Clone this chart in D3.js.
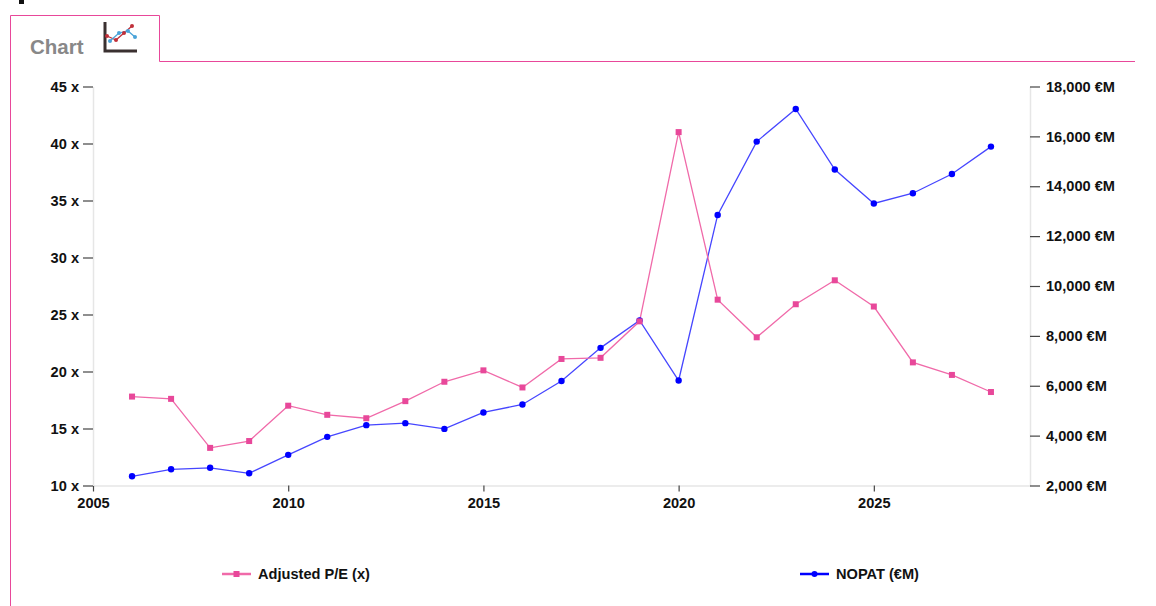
<!DOCTYPE html>
<html lang="en">
<head>
  <meta charset="UTF-8">
  <title>Chart</title>
  <script src="https://cdn.jsdelivr.net/npm/d3@7"></script>
  <style>
    body { margin: 0; background: #fff; }
    text { font-family: "Liberation Sans", Arial, sans-serif; }
  </style>
</head>
<body>
  <div id="wrapper"></div>
  <script>
    // data
    const years = [2006, 2007, 2008, 2009, 2010, 2011, 2012, 2013, 2014, 2015, 2016,
                   2017, 2018, 2019, 2020, 2021, 2022, 2023, 2024, 2025, 2026, 2027, 2028]
    const peValues = [17.8, 17.6, 13.3, 13.9, 17.0, 16.2, 15.9, 17.4, 19.1, 20.1, 18.6,
                      21.1, 21.2, 24.4, 41.0, 26.3, 23.0, 25.9, 28.0, 25.7, 20.8, 19.7, 18.2]
    const nopatValues = [2370, 2650, 2710, 2490, 3230, 3950, 4420, 4500, 4270, 4930, 5250,
                         6190, 7520, 8620, 6210, 12850, 15790, 17100, 14670, 13310, 13720, 14490, 15590]
    const xTicks = [2005, 2010, 2015, 2020, 2025]
    const leftTicks = [10, 15, 20, 25, 30, 35, 40, 45]
    const rightTicks = [2000, 4000, 6000, 8000, 10000, 12000, 14000, 16000, 18000]
    const seriesNames = ["Adjusted P/E (x)", "NOPAT (€M)"]

    const pink = "#e8489a"
    const blue = "#0000ff"
    const fontSize = 14.6

    const dimensions = {
      width: 1156,
      height: 606,
      margin: { top: 86.5, right: 126, bottom: 120.5, left: 93 }
    }
    dimensions.boundedWidth = dimensions.width - dimensions.margin.left - dimensions.margin.right
    dimensions.boundedHeight = dimensions.height - dimensions.margin.top - dimensions.margin.bottom

    const svg = d3.select("#wrapper").append("svg")
      .attr("width", dimensions.width)
      .attr("height", dimensions.height)

    // tab frame
    const frame = svg.append("g")
    frame.append("path")
      .attr("d", "M10.5,606 V15.5 H159.5 V61.5 H1135")
      .attr("fill", "none")
      .attr("stroke", pink)
      .attr("stroke-width", 1)
    frame.append("rect").attr("x", 19).attr("y", 0).attr("width", 5).attr("height", 4).attr("fill", "#111")
    frame.append("text")
      .attr("x", 30).attr("y", 54)
      .attr("font-size", 20.5).attr("font-weight", "bold")
      .attr("fill", "#888")
      .text("Chart")

    // little chart icon
    const icon = frame.append("g")
    icon.append("path").attr("d", "M105,22 V51 H137").attr("fill", "none")
      .attr("stroke", "#3a3030").attr("stroke-width", 3)
    const redPts = [[107, 36], [116, 40], [124, 33], [132, 26]]
    const bluePts = [[110, 41], [119, 33], [128, 31], [135, 37]]
    icon.append("path").attr("d", d3.line()(redPts)).attr("fill", "none").attr("stroke", "#c0303a").attr("stroke-width", 1.3)
    icon.append("path").attr("d", d3.line()(bluePts)).attr("fill", "none").attr("stroke", "#4aa3d8").attr("stroke-width", 1.3)
    icon.selectAll(".r").data(redPts).join("circle").attr("cx", d => d[0]).attr("cy", d => d[1]).attr("r", 2).attr("fill", "#c0303a")
    icon.selectAll(".b").data(bluePts).join("circle").attr("cx", d => d[0]).attr("cy", d => d[1]).attr("r", 2).attr("fill", "#4aa3d8")

    const bounds = svg.append("g")
      .attr("transform", `translate(${dimensions.margin.left}, ${dimensions.margin.top})`)

    const xScale = d3.scaleLinear()
      .domain([2005, 2029])
      .range([0, dimensions.boundedWidth])
    const yLeft = d3.scaleLinear()
      .domain([10, 45])
      .range([dimensions.boundedHeight, 0])
    const yRight = d3.scaleLinear()
      .domain([2000, 18000])
      .range([dimensions.boundedHeight, 0])

    // axes
    const styleAxis = g => {
      g.select(".domain").attr("stroke", "#e6e6e6").attr("stroke-width", 1.5)
      g.selectAll(".tick line").attr("stroke", "#444").attr("stroke-width", 1.2)
      g.selectAll(".tick text")
        .attr("fill", "#111")
        .attr("font-size", fontSize)
        .attr("font-weight", "bold")
        .attr("font-family", "'Liberation Sans', Arial, sans-serif")
    }

    bounds.append("g")
      .attr("transform", `translate(0, ${dimensions.boundedHeight})`)
      .call(d3.axisBottom(xScale).tickValues(xTicks).tickFormat(d3.format("d")).tickSize(6).tickSizeOuter(0).tickPadding(6))
      .call(styleAxis)

    bounds.append("g")
      .call(d3.axisLeft(yLeft).tickValues(leftTicks).tickFormat(d => d + " x").tickSize(10).tickSizeOuter(0).tickPadding(4))
      .call(styleAxis)

    bounds.append("g")
      .attr("transform", `translate(${dimensions.boundedWidth}, 0)`)
      .call(d3.axisRight(yRight).tickValues(rightTicks).tickFormat(d => d3.format(",")(d) + " €M").tickSize(10).tickSizeOuter(0).tickPadding(6))
      .call(styleAxis)

    // lines
    const peData = years.map((y, i) => ({ year: y, value: peValues[i] }))
    const nopatData = years.map((y, i) => ({ year: y, value: nopatValues[i] }))

    const peLine = d3.line().x(d => xScale(d.year)).y(d => yLeft(d.value))
    const nopatLine = d3.line().x(d => xScale(d.year)).y(d => yRight(d.value))

    bounds.append("path")
      .attr("d", nopatLine(nopatData))
      .attr("fill", "none")
      .attr("stroke", "#4646ff")
      .attr("stroke-width", 1.3)

    bounds.append("path")
      .attr("d", peLine(peData))
      .attr("fill", "none")
      .attr("stroke", "#f06aa9")
      .attr("stroke-width", 1.3)

    bounds.selectAll(".nopat-dot").data(nopatData).join("circle")
      .attr("class", "nopat-dot")
      .attr("cx", d => xScale(d.year))
      .attr("cy", d => yRight(d.value))
      .attr("r", 3.2)
      .attr("fill", blue)

    bounds.selectAll(".pe-dot").data(peData).join("rect")
      .attr("class", "pe-dot")
      .attr("x", d => xScale(d.year) - 3)
      .attr("y", d => yLeft(d.value) - 3)
      .attr("width", 6)
      .attr("height", 6)
      .attr("fill", pink)

    // legend
    const legend = svg.append("g")
    const legendItems = [
      { name: seriesNames[0], x: 222, color: pink, line: "#f06aa9", shape: "rect" },
      { name: seriesNames[1], x: 800, color: blue, line: blue, shape: "circle" }
    ]
    legendItems.forEach(item => {
      const g = legend.append("g").attr("transform", `translate(${item.x}, 574)`)
      g.append("line").attr("x1", 0).attr("x2", 29).attr("y1", 0).attr("y2", 0)
        .attr("stroke", item.line).attr("stroke-width", 2.5)
      if (item.shape === "rect") {
        g.append("rect").attr("x", 11.5).attr("y", -3).attr("width", 6).attr("height", 6).attr("fill", item.color)
      } else {
        g.append("circle").attr("cx", 14.5).attr("cy", 0).attr("r", 3).attr("fill", item.color)
      }
      g.append("text")
        .attr("x", 36).attr("y", 5)
        .attr("font-size", fontSize).attr("font-weight", "bold")
        .attr("fill", "#111")
        .text(item.name)
    })
  </script>
</body>
</html>
